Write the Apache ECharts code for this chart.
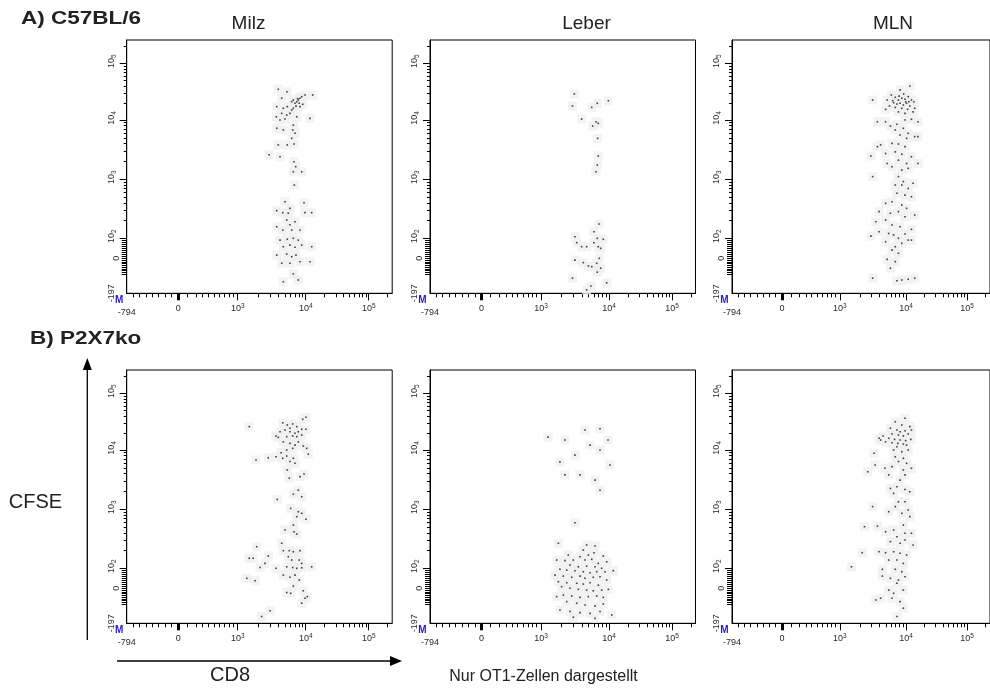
<!DOCTYPE html>
<html>
<head>
<meta charset="utf-8">
<script src="https://cdn.jsdelivr.net/npm/echarts@6/dist/echarts.min.js"></script>
<style>
  html, body { margin: 0; padding: 0; background: #ffffff; }
  #chart { width: 990px; height: 690px; }
</style>
</head>
<body>
<div id="chart"></div>
<script>
// OT1 cells, each event as [CD8, CFSE] fluorescence intensity

// A) C57BL/6 - Milz
const milzWT = [
  [3950,34800],[5300,31500],[4440,24200],[3750,17200],[4690,16100],[5360,17200],[6580,22500],[6960,19700],
  [7380,21000],[7780,22500],[8240,24200],[8740,25800],[9770,27600],[12900,27600],[6230,15000],[6580,16100],
  [5870,13100],[5260,12200],[4440,13100],[3700,11400],[4190,10000],[4970,10400],[7380,11400],[6580,8200],
  [3750,7250],[4690,6800],[6440,6800],[6960,5970],[6230,4910],[6730,3940],[3950,3800],[5360,3800],
  [2900,2600],[4190,2400],[11700,10700],[8240,17200],[9040,18900],[7200,17600],[7600,23800],[6230,21000],
  [8000,19700],
  [6730,1980],[7130,1630],[6580,1340],[8740,1340],[6800,800],
  [4970,417],[9450,401],[3750,294],[4600,272],[5870,322],[5540,266],[9770,272],[12450,272],
  [5260,204],[5870,170],[6960,191],[3750,157],[4600,138],[6230,138],[8240,138],[4190,91],
  [5360,95],[6580,100],[7780,91],[4690,58],[5870,66],[6960,55],[8740,66],[12450,58],
  [3750,16],[5260,21],[6230,8],[7200,16],[4440,-28],[5870,-28],[8240,-19],[11700,-19],
  [6580,-88],[4690,-132],[7780,-122]
];

// A) C57BL/6 - Leber
const leberWT = [
  [3090,28800],[2900,17700],[5570,16700],[6730,19700],[9770,21900],[3960,10400],[5750,7900],[6440,9350],
  [6960,8800],[6820,4910],[6960,2470],[6730,1740],[6440,1340],
  [7130,175],[6010,129],[6730,100],[8240,95],[3160,106],[3350,78],[3960,58],[4690,58],[6010,78],
  [6960,58],[7550,50],[3160,-10],[4190,-24],[4970,-43],[5570,-47],[7200,0],[6600,-28],[7550,-56],
  [6730,-78],[2900,-112],[9240,-138],[5420,-156],[4690,-178]
];

// A) C57BL/6 - MLN
const mlnWT = [
  [8150,34000],[11570,39700],[6010,27600],[6900,25100],[7700,22500],[8650,24200],[9670,23200],[10900,25800],
  [12300,22500],[13550,21000],[5200,22500],[6510,20200],[7300,19200],[8150,19700],[9140,18400],[10250,19700],
  [11570,17700],[13900,16100],[5630,17700],[6900,16700],[8650,16100],[10650,15400],[7700,13900],[9670,13100],
  [4920,15400],[13070,13900],[3130,22500],[6300,21900],[7880,26400],[9240,28800],[9900,21000],[11160,21000],
  [3700,9350],[4920,9350],[5820,7900],[7300,8500],[9670,10000],[12300,10300],[15700,9350],[6900,6800],
  [9140,7250],[10900,5970],[8150,5600],[13900,5250],[10250,4910],[15700,5250],[6150,4040],[7700,3940],
  [9670,3550],[4140,3800],[3700,3550],[2950,2470],[4920,2720],[6900,2900],[8650,2650],[12300,2400],
  [5200,1850],[7700,2100],[10250,1850],[15700,1850],[8650,1430],[10900,1530],[6150,1630],
  [3130,1110],[7700,1110],[9140,915],[13070,855],[6900,800],[8650,800],[10900,700],[7300,580],
  [9670,540],[12300,507],[4920,392],[6150,417],[8650,366],[10250,322],[13900,248],[3920,283],
  [5820,266],[7700,283],[9670,232],[3500,191],[4920,204],[6150,168],[8150,157],[12300,142],
  [3920,129],[5480,121],[6510,114],[9670,118],[10900,91],[7700,100],[2950,109],[4920,83],
  [6900,58],[8650,75],[12300,91],[6150,41],[7700,25],[5200,-6],[6900,-19],[5820,-56],
  [3130,-112],[7300,-126],[8650,-122],[10900,-118],[13900,-112]
];

// B) P2X7ko - Milz
const milzKO = [
  [1480,25800],[9040,34800],[10100,37700],[4590,30200],[5360,27600],[6440,28800],[7380,25800],[8740,23200],
  [10100,23200],[5870,24200],[4970,22500],[4190,21000],[3660,17700],[3950,16700],[5870,21000],[6960,19700],
  [7780,21000],[5260,17200],[6440,17700],[7380,17200],[8740,18400],[4690,13900],[5870,13100],[6960,12200],
  [7780,13900],[9220,11750],[10370,10700],[11000,8500],[5260,10000],[6440,10700],[4340,9000],[5260,7900],
  [6580,7250],[5870,6400],[6960,5970],[1860,6800],[2820,7400],[3660,7700],[4590,7250],
  [5360,4600],[8240,3550],[9450,3940],[5740,3350],[7780,2100],[6580,1800],[8740,1630],[3820,1470],
  [6010,1035],[7780,910],[8740,855],[10100,680],[7380,750],[6580,540],[4970,446],[6730,417],
  [7380,381],[4440,266],
  [1900,232],[2820,162],[1690,148],[1480,148],[2130,103],[2520,121],[3660,100],[4690,199],
  [5740,199],[6580,191],[8240,199],[5540,157],[6230,138],[8050,138],[8740,121],[5260,106],
  [6440,103],[7380,100],[8740,102],[12450,106],[4690,66],[5870,55],[6960,66],[8050,41],
  [1360,50],[1800,38],[6580,11],[5260,-24],[6010,-28],[9220,-14],[10600,-47],[9770,-56],
  [8740,-84],[2250,-159],[2990,-126]
];

// B) P2X7ko - Leber
const leberKO = [
  [1270,16900],[2250,15000],[4440,22500],[7380,23700],[5260,12200],[3160,8200],[7380,10000],[9670,15000],
  [10370,5600],[3750,3800],[6230,3100],[7380,2100],[2250,3800],[1900,6300],
  [3160,593],[1800,266],[4690,248],[6230,239],[4190,204],[6010,184],[2520,168],[3750,157],
  [4970,168],[8240,162],[1700,138],[2250,135],[2990,138],[4440,138],[5570,142],[6960,121],
  [9240,129],[2670,114],[3540,106],[4690,109],[6230,106],[7800,100],[1900,95],[2390,91],
  [3160,88],[4190,83],[5260,78],[6600,83],[8740,83],[11700,88],[1610,66],[2130,61],
  [2830,55],[3750,61],[4440,50],[5870,55],[7380,58],[9240,41],[1800,33],[2390,28],
  [3350,25],[4190,21],[5260,28],[6960,16],[2010,8],[2670,0],[3540,-6],[4690,-10],
  [5870,-14],[7800,-10],[9770,-6],[1700,-47],[2130,-38],[2830,-43],[3750,-51],[4970,-47],
  [6600,-43],[8240,-51],[2390,-75],[3350,-84],[4440,-94],[6230,-99],[8240,-88],[1900,-122],
  [2670,-131],[3750,-137],[5260,-141],[7380,-131],[2990,-163],[6230,-169],[11050,-150]
];

// B) P2X7ko - MLN
const mlnKO = [
  [9670,36200],[6900,31500],[8650,27600],[11570,25800],[5820,24200],[7300,22500],[8150,21000],[9670,21900],
  [12300,22500],[6150,19200],[7700,18400],[9140,17700],[10900,19200],[5490,16100],[6730,15400],[8150,15000],
  [9900,14600],[12000,15400],[4920,13900],[6150,13400],[7550,13100],[9140,12700],[3920,16100],[4500,17700],
  [10250,12200],[4140,15000],[7300,11400],
  [6510,10000],[8650,9350],[10900,10000],[3300,8800],[6900,7700],[9140,7250],[7700,6400],[10250,5970],
  [4800,4910],[6150,5250],[9140,4600],[12300,4910],[5490,3800],[9670,3800],[8150,3100],[7300,2400],
  [5820,2250],[9670,2160],[11570,1980],[6510,1850],[3420,5600],[2640,4300],
  [7700,1340],[9670,1340],[6900,1110],[10900,973],[5490,910],[8650,855],[11570,750],[3130,1110],
  [2360,507],[3700,520],[9140,540],[6510,446],[4920,417],[7300,343],[9670,392],[12300,392],
  [5820,283],[8150,266],[9670,302],[13070,248],[4920,184],[6510,191],[8150,180],[10250,168],
  [3920,191],[2180,184],[5490,138],[7300,138],[9140,121],[1500,106],
  [4400,95],[6900,95],[8650,83],[5820,50],[7700,41],[9670,58],[4400,61],[7300,25],
  [5490,-10],[9140,-10],[6510,-28],[3500,-66],[6150,-56],[8150,-75],[9140,-112],[7300,-159],[4140,-56]
];

const tissues = ['Milz', 'Leber', 'MLN'];
const groups = ['A) C57BL/6', 'B) P2X7ko'];
const panelData = [[milzWT, leberWT, mlnWT], [milzKO, leberKO, mlnKO]];

// Axis tick values (fluorescence units)
const cd8Labels = [[-794, '-794'], [0, '0'], [1000, '10^3'], [10000, '10^4'], [100000, '10^5']];
const cd8MajorTicks = [1000, 10000, 100000];
const cd8MinorTicks = [-700, -600, -500, -400, -300, -200, -100, 100, 200, 300, 400, 500, 600, 700, 800, 900,
  2000, 3000, 4000, 5000, 6000, 7000, 8000, 9000, 20000, 30000, 40000, 50000, 60000, 70000, 80000, 90000, 200000];
const cfseLabels = [[-197, '-197'], [0, '0'], [100, '10^2'], [1000, '10^3'], [10000, '10^4'], [100000, '10^5']];
const cfseMajorTicks = [100, 1000, 10000, 100000];
const cfseMinorTicks = [200, 300, 400, 500, 600, 700, 800, 900, 2000, 3000, 4000, 5000, 6000, 7000, 8000, 9000,
  20000, 30000, 40000, 50000, 60000, 70000, 80000, 90000, 200000];
const cfseLinearTicks = [-90, -80, -70, -60, -50, -40, -30, -20, -10, 0, 10, 20, 30, 40, 50, 60, 70, 80, 90];

// ---- biexponential display scales (axis units) ----
const CD8_NEAR_ZERO = [[0, 51.5], [100, 60.5], [200, 69.5], [300, 76], [400, 82], [500, 87.5],
  [600, 93], [700, 98], [800, 102.5], [900, 106.5], [1000, 111]];
function scaleCD8(v) {
  if (v <= 0) return 51.5 * (v + 794) / 794;
  if (v <= 1000) {
    for (let i = 1; i < CD8_NEAR_ZERO.length; i++) {
      const a = CD8_NEAR_ZERO[i - 1], b = CD8_NEAR_ZERO[i];
      if (v <= b[0]) return a[1] + (b[1] - a[1]) * (v - a[0]) / (b[0] - a[0]);
    }
  }
  const lg = Math.log10(v);
  if (v <= 10000) return 111 + 68 * (lg - 3);
  return 179 + 63 * (lg - 4);
}
function scaleCFSE(v) {
  if (v <= 0) return 35 * (v + 197) / 197;
  if (v <= 100) return 35 + 0.2 * v;
  const lg = Math.log10(v);
  if (v <= 1000) return 55 + 59 * (lg - 2);
  if (v <= 10000) return 114 + 59.3 * (lg - 3);
  return 173.3 + 56.7 * (lg - 4);
}

const PANEL_LEFT = [126.7, 430, 732];
const PANEL_TOP = [40, 370];
const PANEL_W = 265.5;
const PANEL_H = 253.3;
const FONT = '"Liberation Sans", Arial, sans-serif';
const TXT = '#2a2a2a';

function findLabel(list, scale, value) {
  for (const [v, t] of list) if (Math.abs(scale(v) - value) < 0.05) return t;
  return '';
}
function xLabel(value) {
  const t = findLabel(cd8Labels, scaleCD8, value);
  if (t === '-794') return '{low|-794}';
  if (t.indexOf('^') > 0) { const p = t.split('^'); return '{b|' + p[0] + '}{s|' + p[1] + '}'; }
  return '{b|' + t + '}';
}
function yLabel(value) {
  const t = findLabel(cfseLabels, scaleCFSE, value);
  if (t === '-197') return '{low|-197}';
  if (t.indexOf('^') > 0) { const p = t.split('^'); return '{b|' + p[0] + '}{s|' + p[1] + '}'; }
  return '{z|' + t + '}';
}

const xMax = PANEL_W, yMax = PANEL_H;
const grids = [], xAxes = [], yAxes = [], series = [];

function baseAxis(extra) {
  return Object.assign({
    type: 'value', min: 0, splitLine: { show: false },
    axisLine: { show: false, onZero: false },
    axisTick: { show: false }, axisLabel: { show: false }
  }, extra);
}

for (let r = 0; r < 2; r++) {
  for (let c = 0; c < 3; c++) {
    const g = grids.length;
    grids.push({
      left: PANEL_LEFT[c], top: PANEL_TOP[r], width: PANEL_W, height: PANEL_H,
      show: true, borderColor: '#000', borderWidth: 1, backgroundColor: 'transparent'
    });
    const xi = xAxes.length, yi = yAxes.length;
    // main CD8 axis with labels and decade ticks
    xAxes.push(baseAxis({
      gridIndex: g, position: 'bottom', max: xMax,
      axisLine: { show: true, onZero: false, lineStyle: { color: '#000', width: 1 } },
      axisTick: { show: true, length: 7, lineStyle: { color: '#000', width: 1 },
        customValues: cd8MajorTicks.map(scaleCD8) },
      axisLabel: {
        show: true, margin: 9, customValues: cd8Labels.map(d => scaleCD8(d[0])),
        formatter: xLabel,
        rich: {
          b: { fontSize: 9, lineHeight: 12, fontFamily: FONT, color: TXT },
          s: { fontSize: 6.5, lineHeight: 7, verticalAlign: 'top', fontFamily: FONT, color: TXT },
          low: { fontSize: 9, lineHeight: 12, padding: [8, 0, 0, 0], fontFamily: FONT, color: TXT }
        }
      }
    }));
    // minor CD8 ticks
    xAxes.push(baseAxis({
      gridIndex: g, position: 'bottom', max: xMax,
      axisTick: { show: true, length: 4, lineStyle: { color: '#000', width: 1 },
        customValues: cd8MinorTicks.map(scaleCD8) }
    }));
    // zero marker
    xAxes.push(baseAxis({
      gridIndex: g, position: 'bottom', max: xMax,
      axisTick: { show: true, length: 7, lineStyle: { color: '#000', width: 3 },
        customValues: [scaleCD8(0)] }
    }));
    // main CFSE axis
    yAxes.push(baseAxis({
      gridIndex: g, position: 'left', max: yMax,
      axisLine: { show: true, onZero: false, lineStyle: { color: '#000', width: 1 } },
      axisTick: { show: true, length: 7, lineStyle: { color: '#000', width: 1 },
        customValues: cfseMajorTicks.map(scaleCFSE) },
      axisLabel: {
        show: true, margin: 4, rotate: 90, customValues: cfseLabels.map(d => scaleCFSE(d[0])),
        formatter: yLabel,
        rich: {
          b: { fontSize: 9, lineHeight: 12, padding: [0, 0, 10, 4], fontFamily: FONT, color: TXT },
          s: { fontSize: 6.5, lineHeight: 7, verticalAlign: 'top', fontFamily: FONT, color: TXT },
          z: { fontSize: 9, lineHeight: 12, fontFamily: FONT, color: TXT },
          low: { fontSize: 9, lineHeight: 12, padding: [0, 0, 11, 0], fontFamily: FONT, color: TXT }
        }
      }
    }));
    yAxes.push(baseAxis({
      gridIndex: g, position: 'left', max: yMax,
      axisTick: { show: true, length: 3, lineStyle: { color: '#000', width: 1 },
        customValues: cfseMinorTicks.map(scaleCFSE) }
    }));
    yAxes.push(baseAxis({
      gridIndex: g, position: 'left', max: yMax,
      axisTick: { show: true, length: 5, lineStyle: { color: '#000', width: 1 },
        customValues: cfseLinearTicks.map(scaleCFSE) }
    }));

    const pts = panelData[r][c].map(d => [scaleCD8(d[0]), scaleCFSE(d[1])]);
    // faint density halo under each event, then the event dot
    series.push({
      type: 'scatter', xAxisIndex: xi, yAxisIndex: yi, data: pts, clip: true, silent: true,
      symbol: 'rect', symbolSize: 9, itemStyle: { color: '#f0f0f0' }, z: 1, animation: false
    });
    series.push({
      type: 'scatter', xAxisIndex: xi, yAxisIndex: yi, data: pts, clip: true, silent: true,
      symbol: 'rect', symbolSize: 1.6, itemStyle: { color: '#111111' }, z: 3, animation: false
    });
  }
}

// Annotations: group headings, organ names, axis arrows
const graphic = [];
const heading = (text, x, y) => ({
  type: 'text', left: x, top: y, scaleX: 1.25,
  style: { text, font: 'bold 18px ' + FONT, fill: '#222' }
});
graphic.push(heading(groups[0], 21, 10));
graphic.push(heading(groups[1], 30, 330));
const organX = [248.5, 586.5, 893];
tissues.forEach((t, i) => graphic.push({
  type: 'text', x: organX[i], y: 24,
  style: { text: t, font: '19px ' + FONT, fill: '#222', align: 'center', verticalAlign: 'middle' }
}));
graphic.push({ type: 'text', x: 35.5, y: 502.5,
  style: { text: 'CFSE', font: '20px ' + FONT, fill: '#222', align: 'center', verticalAlign: 'middle' } });
graphic.push({ type: 'text', x: 230, y: 675,
  style: { text: 'CD8', font: '20px ' + FONT, fill: '#222', align: 'center', verticalAlign: 'middle' } });
graphic.push({ type: 'text', x: 543.5, y: 677,
  style: { text: 'Nur OT1-Zellen dargestellt', font: '16px ' + FONT, fill: '#222', align: 'center', verticalAlign: 'middle' } });
// CFSE arrow (up)
graphic.push({ type: 'line', shape: { x1: 87.3, y1: 640, x2: 87.3, y2: 366 }, style: { stroke: '#000', lineWidth: 1.3 } });
graphic.push({ type: 'polygon', shape: { points: [[87.3, 358], [82.8, 370], [91.8, 370]] }, style: { fill: '#000' } });
// CD8 arrow (right)
graphic.push({ type: 'line', shape: { x1: 117, y1: 661, x2: 394, y2: 661 }, style: { stroke: '#000', lineWidth: 1.3 } });
graphic.push({ type: 'polygon', shape: { points: [[402, 661], [390, 656], [390, 666]] }, style: { fill: '#000' } });
// gate marker at each panel origin
for (let r = 0; r < 2; r++) for (let c = 0; c < 3; c++) {
  graphic.push({ type: 'text', x: PANEL_LEFT[c] - 7.5, y: PANEL_TOP[r] + PANEL_H + 7,
    style: { text: 'M', font: 'bold 10px ' + FONT, fill: '#2323c8', align: 'center', verticalAlign: 'middle' } });
}

const chart = echarts.init(document.getElementById('chart'), null, { renderer: 'canvas' });
chart.setOption({
  animation: false,
  backgroundColor: '#ffffff',
  grid: grids,
  xAxis: xAxes,
  yAxis: yAxes,
  series: series,
  graphic: graphic
});
</script>
</body>
</html>
